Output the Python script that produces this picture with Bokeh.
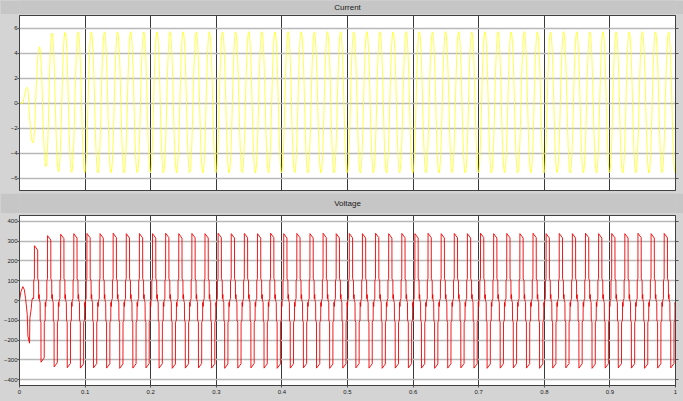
from bokeh.plotting import figure
from bokeh.layouts import column
from bokeh.models import Range1d, FixedTicker, LinearAxis
from bokeh.core.properties import value
from bokeh.embed import file_html
from bokeh.resources import INLINE

# ---------------- data ----------------
x_ticks = [0.0, 0.1, 0.2, 0.3, 0.4, 0.5, 0.6, 0.7, 0.8, 0.9, 1.0]
x_tick_labels = ["0", "0.1", "0.2", "0.3", "0.4", "0.5", "0.6", "0.7", "0.8", "0.9", "1"]
current_ticks = [-6, -4, -2, 0, 2, 4, 6]
voltage_ticks = [-400, -300, -200, -100, 0, 100, 200, 300, 400]
titles = ["Current", "Voltage"]

# Current: quiet start, transient extrema, then steady extrema every half period
current_start_t = [0.0, 0.0055]
current_start_v = [0.0, 0.0]
current_transient_t = [0.0115, 0.0203, 0.0304, 0.0403]
current_transient_v = [1.25, -3.2, 4.5, -5.1]
current_first_peak_t = 0.0495
current_half_period = 0.01
current_pos_peaks = [5.60, 5.66, 5.68, 5.68, 5.69, 5.68, 5.70, 5.69,
                     5.68, 5.70, 5.69, 5.68, 5.70, 5.69, 5.68, 5.70,
                     5.69, 5.68, 5.70, 5.69, 5.68, 5.70, 5.69, 5.68,
                     5.70, 5.69, 5.68, 5.70, 5.69, 5.68, 5.70, 5.69,
                     5.68, 5.70, 5.69, 5.68, 5.70, 5.69, 5.68, 5.70,
                     5.69, 5.68, 5.70, 5.69, 5.68, 5.70, 5.69, 5.68]
current_neg_peaks = [-5.50, -5.56, -5.58, -5.60, -5.59, -5.60, -5.58, -5.60,
                     -5.59, -5.60, -5.58, -5.60, -5.59, -5.60, -5.58, -5.60,
                     -5.59, -5.60, -5.58, -5.60, -5.59, -5.60, -5.58, -5.60,
                     -5.59, -5.60, -5.58, -5.60, -5.59, -5.60, -5.58, -5.60,
                     -5.59, -5.60, -5.58, -5.60, -5.59, -5.60, -5.58, -5.60,
                     -5.59, -5.60, -5.58, -5.60, -5.59, -5.60, -5.58, -5.60]

# Voltage: transient, then stepped cycles
voltage_transient_t = [0.0, 0.0022, 0.0052, 0.0073, 0.0093, 0.0118, 0.0128,
                       0.0153, 0.0158, 0.0179, 0.0189, 0.0199]
voltage_transient_v = [0, 45, 70, 55, 10, -70, -180, -216, -90, -40, 0, 12]
voltage_first_pulse_t = 0.0228
voltage_period = 0.02
voltage_pulse_width = 0.0049
voltage_droop = 22
voltage_pos_peaks = [277, 328, 335, 338, 339, 338, 340, 338, 339, 338,
                     340, 338, 339, 338, 340, 338, 339, 338, 340, 338,
                     339, 338, 340, 338, 339, 338, 340, 338, 339, 338,
                     340, 338, 339, 338, 340, 338, 339, 338, 340, 338,
                     339, 338, 340, 338, 339, 338, 340, 338, 339]
voltage_neg_peaks = [-312, -336, -340, -342, -341, -342, -343, -342, -341, -342,
                     -343, -342, -341, -342, -343, -342, -341, -342, -343, -342,
                     -341, -342, -343, -342, -341, -342, -343, -342, -341, -342,
                     -343, -342, -341, -342, -343, -342, -341, -342, -343, -342,
                     -341, -342, -343, -342, -341, -342, -343, -342, -341]
# step levels around each pulse (offset from positive pulse rise, volts)
voltage_lead_dt = [-0.0012, -0.0011, -0.0001]
voltage_lead_v = [10, 100, 110]
voltage_mid_dt = [0.0050, 0.0063, 0.0065, 0.0072, 0.0076, 0.0086, 0.0088, 0.0099]
voltage_mid_v = [110, 100, 10, 30, 0, -10, -100, -110]
voltage_tail_dt = [0.0150, 0.0163, 0.0165, 0.0172, 0.0176]
voltage_tail_v = [-110, -100, -10, -30, 0]

# ---------------- build series ----------------
ext_t = list(current_transient_t)
ext_v = list(current_transient_v)
for i in range(2 * len(current_pos_peaks)):
    ext_t.append(current_first_peak_t + current_half_period * i)
    ext_v.append(current_pos_peaks[i // 2] if i % 2 == 0 else current_neg_peaks[i // 2])

# zero crossings between successive extrema; each half wave is one quadratic curve
zeros = [current_start_t[-1]]
for i in range(1, len(ext_t)):
    a0, a1 = ext_v[i - 1], ext_v[i]
    zeros.append(ext_t[i - 1] + (ext_t[i] - ext_t[i - 1]) * a0 / (a0 - a1))
zeros.append(ext_t[-1] + current_half_period / 2)
q_x0 = zeros[:-1]
q_x1 = zeros[1:]
q_cx = [2 * t - 0.5 * (z0 + z1) for t, z0, z1 in zip(ext_t, q_x0, q_x1)]
q_cy = [2 * v for v in ext_v]
q_y0 = [0.0] * len(ext_t)

vt = list(voltage_transient_t)
vv = list(voltage_transient_v)
for k, (pp, nn) in enumerate(zip(voltage_pos_peaks, voltage_neg_peaks)):
    T = voltage_first_pulse_t + voltage_period * k
    vt += [T + d for d in voltage_lead_dt]
    vv += voltage_lead_v
    vt += [T, T + voltage_pulse_width]
    vv += [pp, pp - voltage_droop]
    vt += [T + d for d in voltage_mid_dt]
    vv += voltage_mid_v
    vt += [T + 0.01, T + 0.01 + voltage_pulse_width]
    vv += [nn, nn + voltage_droop]
    vt += [T + d for d in voltage_tail_dt]
    vv += voltage_tail_v

# ---------------- styling ----------------
W = 683
BG = "#d4d4d4"
BAR = "#c6c6c6"
FONT = "Liberation Sans"


def title_bar(text, h):
    b = figure(width=W, height=h, x_range=Range1d(0, 1), y_range=Range1d(0, 1),
               x_axis_location=None, y_axis_location=None,
               output_backend="svg", toolbar_location=None,
               min_border=0, min_border_left=0, min_border_right=0,
               min_border_top=0, min_border_bottom=0)
    b.background_fill_color = BAR
    b.border_fill_color = BAR
    b.outline_line_color = None
    b.grid.visible = False
    b.text(x=[0.5], y=[0.5], text=[text], text_align="center", text_baseline="middle",
           text_font=value(FONT), text_font_size="8px", text_color="#1a1a1a")
    return b


def style(p, yticks):
    p.background_fill_color = "white"
    p.border_fill_color = BG
    p.outline_line_color = "#404040"
    p.xgrid.ticker = FixedTicker(ticks=x_ticks)
    p.xgrid.grid_line_color = "#3a3a3a"
    p.xgrid.grid_line_width = 1
    p.ygrid.ticker = FixedTicker(ticks=yticks)
    p.ygrid.grid_line_color = "#b8b8b8"
    p.ygrid.grid_line_width = 1.6
    ax = p.yaxis[0]
    ax.ticker = FixedTicker(ticks=yticks)
    ax.major_label_text_font = FONT
    ax.major_label_text_font_size = "6px"
    ax.major_label_text_color = "#222222"
    ax.major_label_standoff = 0
    ax.major_tick_out = 2
    ax.major_tick_in = 0
    ax.minor_tick_out = 0
    ax.minor_tick_in = 0
    ax.axis_line_color = "#404040"
    ax.major_tick_line_color = "#555555"
    r = LinearAxis(ticker=FixedTicker(ticks=yticks),
                   major_label_overrides={t: "" for t in yticks},
                   major_label_text_font_size="0px",
                   major_label_standoff=0, major_tick_out=3, major_tick_in=0,
                   minor_tick_out=0, minor_tick_in=0,
                   major_tick_line_color="#555555", axis_line_color="#404040")
    p.add_layout(r, "right")


bar1 = title_bar(titles[0], 14)

p1 = figure(width=W, height=179, x_range=Range1d(0, 1), y_range=Range1d(-7, 7),
            output_backend="svg", toolbar_location=None,
            min_border_left=14, min_border_right=8, min_border_top=1, min_border_bottom=3)
style(p1, current_ticks)
p1.xaxis.visible = False
p1.line(current_start_t, current_start_v, line_color="#ffff1a", line_width=0.8)
p1.quadratic(x0=q_x0, y0=q_y0, x1=q_x1, y1=q_y0, cx=q_cx, cy=q_cy,
             line_color="#ffff1a", line_width=0.8)

bar2 = title_bar(titles[1], 20)

p2 = figure(width=W, height=188, x_range=Range1d(0, 1), y_range=Range1d(-430, 430),
            output_backend="svg", toolbar_location=None,
            min_border_left=14, min_border_right=8, min_border_top=2, min_border_bottom=16)
style(p2, voltage_ticks)
xa = p2.xaxis[0]
xa.ticker = FixedTicker(ticks=x_ticks)
xa.major_label_overrides = {t: s for t, s in zip(x_ticks, x_tick_labels)}
xa.major_label_text_font = FONT
xa.major_label_text_font_size = "6px"
xa.major_label_text_color = "#222222"
xa.major_label_standoff = 2
xa.major_tick_out = 2
xa.major_tick_in = 0
xa.minor_tick_out = 0
xa.minor_tick_in = 0
xa.axis_line_color = "#404040"
xa.major_tick_line_color = "#555555"
p2.line(vt, vv, line_color="#ee0000", line_width=0.9)

layout = column(bar1, p1, bar2, p2, spacing=0, styles={"background-color": BG})

open("out.html", "w").write(file_html(layout, INLINE))
